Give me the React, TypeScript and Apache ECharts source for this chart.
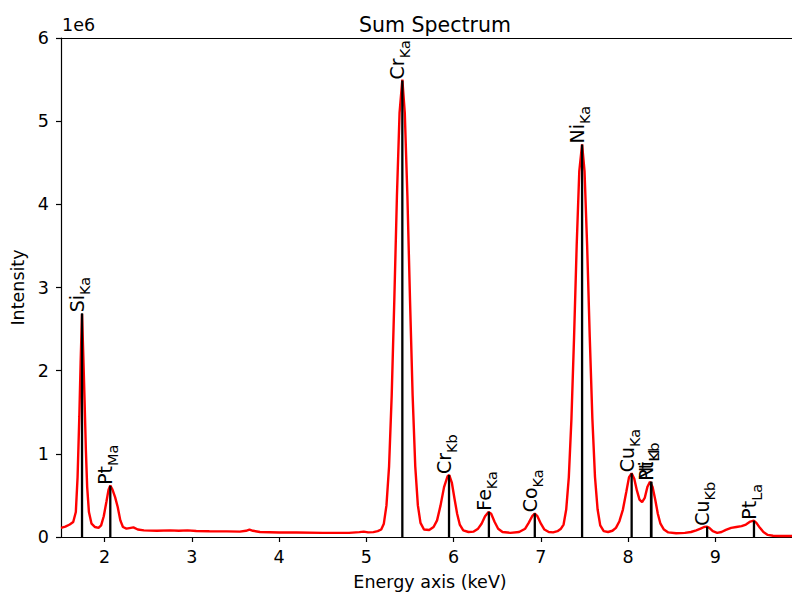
import React, { useEffect, useRef } from "react";
import * as echarts from "echarts";

// Sum spectrum (energy in keV, intensity in units of 1e6 counts)
const energyKeV = [
  1.5, 1.55, 1.6, 1.64, 1.67, 1.69, 1.71, 1.725, 1.741, 1.755, 1.77, 1.785, 1.8, 1.82, 1.85, 1.89, 1.93,
  1.96, 1.99, 2.02, 2.045, 2.065, 2.09, 2.12, 2.15, 2.18, 2.21, 2.25, 2.3, 2.33, 2.38, 2.45,
  2.6, 2.75, 2.85, 2.95, 3.05, 3.2, 3.4, 3.55, 3.62, 3.66, 3.7, 3.78, 4.0, 4.2, 4.5, 4.8, 4.92, 4.97, 5.02, 5.08,
  5.13, 5.17, 5.2, 5.23, 5.26, 5.29, 5.32, 5.35, 5.38, 5.412, 5.44, 5.47, 5.5, 5.53, 5.56, 5.59, 5.62, 5.66,
  5.72, 5.77, 5.81, 5.85, 5.89, 5.93, 5.95, 5.98, 6.01, 6.04, 6.07, 6.11, 6.17,
  6.23, 6.28, 6.32, 6.36, 6.4, 6.43, 6.47, 6.51, 6.56, 6.65,
  6.75, 6.82, 6.86, 6.9, 6.93, 6.96, 7.0, 7.04, 7.09, 7.14, 7.19,
  7.23, 7.26, 7.29, 7.32, 7.35, 7.38, 7.41, 7.44, 7.472, 7.5, 7.53, 7.56, 7.59, 7.62, 7.65, 7.68, 7.72,
  7.77, 7.82, 7.86, 7.9, 7.94, 7.98, 8.01, 8.04, 8.07, 8.1, 8.13, 8.16, 8.19, 8.22, 8.25, 8.28, 8.31, 8.34, 8.37, 8.41, 8.46,
  8.55, 8.65, 8.72, 8.78, 8.83, 8.87, 8.9, 8.93, 8.97, 9.02, 9.07, 9.12, 9.18, 9.24, 9.3, 9.35, 9.4, 9.44, 9.47, 9.51, 9.55, 9.6,
  9.66, 9.75, 9.85, 9.96,
];
const intensityM = [
  0.11, 0.125, 0.15, 0.18, 0.3, 0.72, 1.45, 2.1, 2.68, 2.2, 1.65, 1.05, 0.6, 0.3, 0.16, 0.12, 0.11,
  0.14, 0.25, 0.42, 0.57, 0.62, 0.57, 0.48, 0.36, 0.2, 0.12, 0.1, 0.11, 0.115, 0.09, 0.08,
  0.075, 0.08, 0.075, 0.08, 0.073, 0.07, 0.068, 0.065, 0.075, 0.09, 0.075, 0.06, 0.055, 0.055, 0.05, 0.05, 0.058, 0.065, 0.055, 0.058,
  0.07, 0.09, 0.16, 0.38, 0.85, 1.7, 2.85, 4.1, 5.1, 5.5, 5.1, 4.1, 2.85, 1.7, 0.85, 0.38, 0.17, 0.09,
  0.085, 0.12, 0.2, 0.38, 0.6, 0.73, 0.745, 0.65, 0.46, 0.28, 0.15, 0.08, 0.06,
  0.065, 0.1, 0.16, 0.25, 0.3, 0.28, 0.18, 0.1, 0.06, 0.05,
  0.06, 0.1, 0.17, 0.25, 0.28, 0.25, 0.16, 0.09, 0.06, 0.055, 0.07,
  0.1, 0.15, 0.33, 0.72, 1.42, 2.4, 3.5, 4.4, 4.72, 4.4, 3.5, 2.4, 1.42, 0.72, 0.33, 0.14, 0.07,
  0.06, 0.075, 0.11, 0.19, 0.33, 0.55, 0.72, 0.765, 0.7, 0.56, 0.45, 0.42, 0.47, 0.6, 0.665, 0.6, 0.45, 0.28, 0.16, 0.09, 0.055,
  0.045, 0.05, 0.06, 0.08, 0.1, 0.12, 0.125, 0.11, 0.07, 0.05, 0.06, 0.085, 0.11, 0.12, 0.13, 0.15, 0.185, 0.196, 0.17, 0.11, 0.06, 0.025,
  0.015, 0.012, 0.012, 0.012,
];

// Identified X-ray lines
const lineElements = ["Si", "Pt", "Cr", "Cr", "Fe", "Co", "Ni", "Cu", "Ni", "Pt", "Cu", "Pt"];
const lineShells = ["Ka", "Ma", "Ka", "Kb", "Ka", "Ka", "Ka", "Ka", "Kb", "Ll", "Kb", "La"];
const lineEnergies = [1.741, 2.065, 5.412, 5.947, 6.404, 6.93, 7.472, 8.04, 8.262, 8.266, 8.905, 9.442];
const lineHeightsM = [2.69, 0.615, 5.49, 0.745, 0.304, 0.285, 4.72, 0.766, 0.665, 0.665, 0.124, 0.196];

const xTicks = [2, 3, 4, 5, 6, 7, 8, 9];
const yTicks = [0, 1, 2, 3, 4, 5, 6];
const X_MIN = 1.5;
const X_MAX = 9.958;

const FONT = "DejaVu Sans";
const TICK_SIZE = 17.5;
const LABEL_SIZE = 17.5;

export default function App() {
  const ref = useRef<HTMLDivElement>(null);

  useEffect(() => {
    const chart = echarts.init(ref.current as HTMLDivElement, null, { renderer: "svg" });
    const spectrum = energyKeV.map((e, i) => [e, intensityM[i]]);
    const lines = lineEnergies.map((e, i) => [e, lineHeightsM[i], i]);

    const option: any = {
      animation: false,
      backgroundColor: "#ffffff",
      title: {
        text: "Sum Spectrum",
        left: 430,
        top: 9,
        textAlign: "center",
        textStyle: { fontFamily: FONT, fontSize: 20.5, fontWeight: "normal", color: "#000" },
      },
      grid: { left: 61, right: 1, top: 38, bottom: 61, containLabel: false },
      graphic: [
        {
          type: "text",
          left: 62,
          top: 16,
          style: { text: "1e6", fontFamily: FONT, fontSize: TICK_SIZE, fill: "#000" },
        },
      ],
      xAxis: [
        {
          type: "value",
          min: X_MIN,
          max: X_MAX,
          name: "Energy axis (keV)",
          nameLocation: "middle",
          nameGap: 36,
          nameTextStyle: { fontFamily: FONT, fontSize: LABEL_SIZE, color: "#000" },
          axisLine: { show: true, onZero: false, lineStyle: { color: "#000", width: 1.2 } },
          axisTick: { show: true, length: 5, lineStyle: { color: "#000", width: 1.2 }, customValues: xTicks },
          axisLabel: {
            show: true,
            margin: 11,
            fontFamily: FONT,
            fontSize: TICK_SIZE,
            color: "#000",
            customValues: xTicks,
            formatter: (v: number) => String(v),
          },
          splitLine: { show: false },
        },
        {
          type: "value",
          position: "top",
          min: X_MIN,
          max: X_MAX,
          axisLine: { show: true, onZero: false, lineStyle: { color: "#000", width: 1.2 } },
          axisTick: { show: false },
          axisLabel: { show: false },
          splitLine: { show: false },
        },
      ],
      yAxis: {
        type: "value",
        min: 0,
        max: 6,
        interval: 1,
        name: "Intensity",
        nameLocation: "middle",
        nameGap: 29,
        nameTextStyle: { fontFamily: FONT, fontSize: LABEL_SIZE, color: "#000" },
        axisLine: { show: true, onZero: false, lineStyle: { color: "#000", width: 1.2 } },
        axisTick: { show: true, length: 5, lineStyle: { color: "#000", width: 1.2 } },
        axisLabel: {
          margin: 12,
          fontFamily: FONT,
          fontSize: TICK_SIZE,
          color: "#000",
          customValues: yTicks,
          formatter: (v: number) => String(v),
        },
        splitLine: { show: false },
      },
      series: [
        {
          type: "line",
          data: spectrum,
          xAxisIndex: 0,
          showSymbol: false,
          symbol: "none",
          smooth: false,
          lineStyle: { color: "#ff0000", width: 2.4 },
          itemStyle: { color: "#ff0000" },
          z: 2,
        },
        {
          type: "custom",
          xAxisIndex: 0,
          data: lines,
          encode: { x: 0, y: 1 },
          clip: false,
          z: 3,
          renderItem: (params: any, api: any) => {
            const x = api.value(0);
            const h = api.value(1);
            const idx = api.value(2);
            const p0 = api.coord([x, 0]);
            const p1 = api.coord([x, h]);
            return {
              type: "group",
              children: [
                {
                  type: "line",
                  shape: { x1: p0[0], y1: p0[1], x2: p1[0], y2: p1[1] },
                  style: { stroke: "#000", lineWidth: 2.3 },
                },
                {
                  type: "text",
                  x: p1[0] - 4.5,
                  y: p1[1] - 1,
                  rotation: Math.PI / 2,
                  style: {
                    text: `{m|${lineElements[idx]}}{s|${lineShells[idx]}}`,
                    align: "left",
                    verticalAlign: "middle",
                    fill: "#000",
                    rich: {
                      m: { fontFamily: FONT, fontSize: 19, lineHeight: 20, verticalAlign: "top", fill: "#000" },
                      s: {
                        fontFamily: FONT,
                        fontSize: 14.5,
                        lineHeight: 14.5,
                        padding: [10, 0, 0, 0],
                        verticalAlign: "top",
                        fill: "#000",
                      },
                    },
                  },
                },
              ],
            };
          },
        },
      ],
    };

    chart.setOption(option);
    return () => chart.dispose();
  }, []);

  return (
    <div
      style={{
        position: "fixed",
        left: 0,
        top: 0,
        width: 792,
        height: 598,
        overflow: "hidden",
        background: "#fff",
      }}
    >
      <div ref={ref} style={{ width: 800, height: 598 }} />
    </div>
  );
}
